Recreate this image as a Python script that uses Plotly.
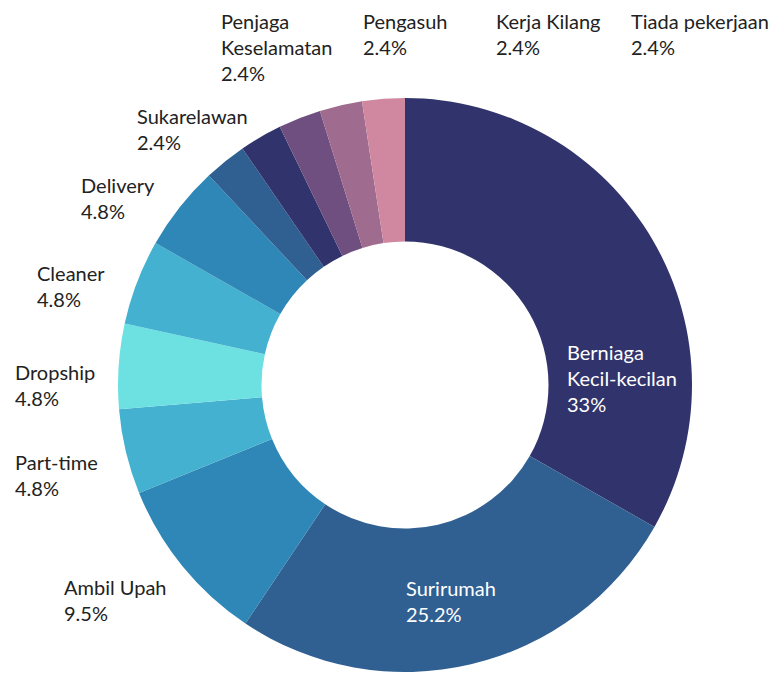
import plotly.graph_objects as go

categories = ["Berniaga Kecil-kecilan", "Surirumah", "Ambil Upah", "Part-time", "Dropship",
              "Cleaner", "Delivery", "Sukarelawan", "Penjaga Keselamatan", "Pengasuh",
              "Kerja Kilang", "Tiada pekerjaan"]
# slice sizes (percent)
values = [33.3, 26.2, 9.5, 4.8, 4.8, 4.8, 4.8, 2.4, 2.4, 2.4, 2.4, 2.4]
# percentage labels as printed on the chart
pct_labels = ["33%", "25.2%", "9.5%", "4.8%", "4.8%", "4.8%", "4.8%", "2.4%", "2.4%", "2.4%", "2.4%", "2.4%"]
# label text as wrapped in the chart
label_lines = ["Berniaga<br>Kecil-kecilan", "Surirumah", "Ambil Upah", "Part-time", "Dropship",
               "Cleaner", "Delivery", "Sukarelawan", "Penjaga<br>Keselamatan", "Pengasuh",
               "Kerja Kilang", "Tiada pekerjaan"]

colors = ["#31346c", "#306092", "#2e87b6", "#43b1cf", "#6de1e2", "#43b1cf",
          "#2e87b6", "#306092", "#31346c", "#6f4f7f", "#9f6b8f", "#cf88a0"]

W, H = 784, 679
OFF = 8  # page body margin offset
cx, cy, R = 405 - OFF, 385 - OFF, 287

fig = go.Figure(go.Pie(
    labels=categories,
    values=values,
    sort=False,
    direction="clockwise",
    rotation=0,
    hole=0.5,
    marker=dict(colors=colors, line=dict(width=0)),
    textinfo="none",
    showlegend=False,
    domain=dict(x=[(cx - R) / W, (cx + R) / W], y=[(H - cy - R) / H, (H - cy + R) / H]),
))

# label block positions in pixels: (left x, vertical centre y); None = pinned to the top edge
label_pos = [(566, 378), (405, 601), (63, 600), (14, 475), (14, 385),
             (36, 286), (80, 198), (136, 129), (220, None), (362, None),
             (495, None), (630, None)]
text_colors = ["white", "white"] + ["#222222"] * 10

for lab, pct, (x, y), tc in zip(label_lines, pct_labels, label_pos, text_colors):
    if y is None:
        ya, yv = "top", 1.0
    else:
        ya, yv = "middle", 1 - (y - OFF) / H
    fig.add_annotation(
        x=(x - OFF) / W, y=yv, xref="paper", yref="paper",
        xanchor="left", yanchor=ya, align="left",
        text=f"{lab}<br>{pct}", showarrow=False,
        font=dict(family="Lato", size=20, color=tc),
        borderpad=0,
    )

fig.update_layout(
    width=W, height=H,
    margin=dict(l=0, r=0, t=0, b=0),
    paper_bgcolor="white", plot_bgcolor="white",
)

fig.write_html("out.html")
